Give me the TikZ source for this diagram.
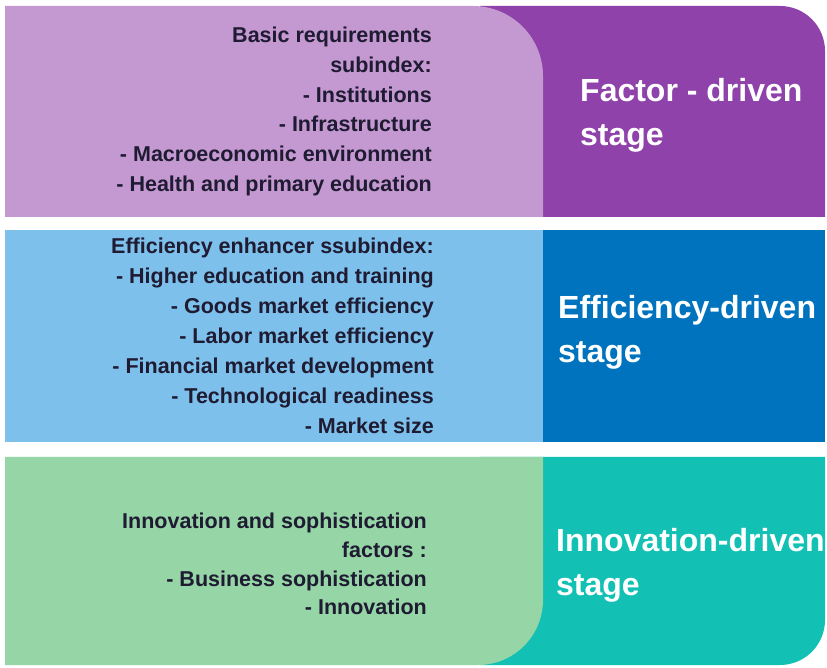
\documentclass[tikz,border=0pt]{standalone}
\usepackage{fontspec}
\setmainfont{Liberation Sans}
\definecolor{purpleL}{RGB}{196,152,208}
\definecolor{purpleD}{RGB}{142,66,170}
\definecolor{blueL}{RGB}{125,192,235}
\definecolor{blueD}{RGB}{0,115,190}
\definecolor{greenL}{RGB}{150,213,165}
\definecolor{tealD}{RGB}{18,192,180}
\definecolor{inktext}{RGB}{30,27,50}
\begin{document}
\begin{tikzpicture}[x=1pt,y=1pt,
  itemline/.style={anchor=base east,inner sep=0pt,text=inktext,
    font=\fontsize{21.5}{30}\selectfont\bfseries},
  stagetitle/.style={anchor=base west,inner sep=0pt,text=white,
    font=\fontsize{32}{44}\selectfont\bfseries}]
\useasboundingbox[fill=white] (0,0) rectangle (827,667);

% factor-driven band
\fill[purpleD] (480,450) -- (480,661) -- (780,661)
  arc[start angle=90,end angle=0,radius=45pt] -- (825,450) -- cycle;
\fill[purpleL] (5,450) -- (5,661) -- (473,661)
  arc[start angle=90,end angle=0,radius=70pt] -- (543,450) -- cycle;

% efficiency-driven band
\fill[blueL] (5,225) rectangle (543,437);
\fill[blueD] (543,225) rectangle (825,437);

% innovation-driven band
\fill[tealD] (480,210) -- (825,210) -- (825,47)
  arc[start angle=0,end angle=-90,radius=45pt] -- (480,2) -- cycle;
\fill[greenL] (5,210) -- (543,210) -- (543,67)
  arc[start angle=0,end angle=-90,radius=65pt] -- (5,2) -- cycle;

% subindex lists
\foreach \txt [count=\i] in {Basic requirements,subindex:,- Institutions,
    - Infrastructure,- Macroeconomic environment,- Health and primary education}
  \node[itemline] (basic\i) at (432,{624.5-29.8*(\i-1)}) {\txt};

\foreach \txt [count=\i] in {Efficiency enhancer ssubindex:,
    - Higher education and training,- Goods market efficiency,
    - Labor market efficiency,- Financial market development,
    - Technological readiness,- Market size}
  \node[itemline] (eff\i) at (434,{413.5-30*(\i-1)}) {\txt};

\foreach \txt [count=\i] in {Innovation and sophistication,factors :,
    - Business sophistication,- Innovation}
  \node[itemline] (inno\i) at (427,{138.5-28.8*(\i-1)}) {\txt};

% stage titles
\node[stagetitle] (factorA) at (580,565.5) {Factor - driven};
\node[stagetitle] (factorB) at (580,521.5) {stage};
\node[stagetitle] (effA) at (558,348.5) {Efficiency-driven};
\node[stagetitle] (effB) at (558,304.5) {stage};
\node[stagetitle] (innoA) at (556,115.5) {Innovation-driven};
\node[stagetitle] (innoB) at (556,71.5) {stage};
\end{tikzpicture}
\end{document}
